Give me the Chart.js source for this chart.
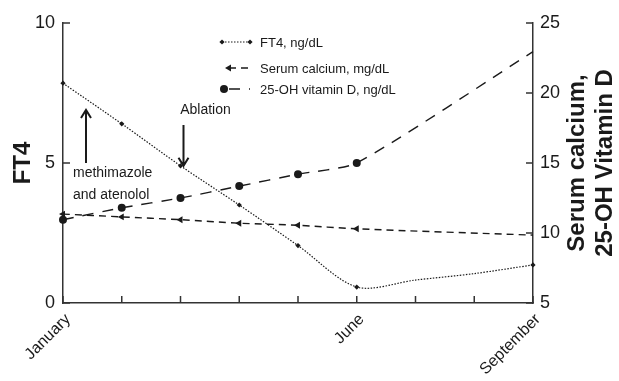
<!DOCTYPE html>
<html>
<head>
<meta charset="utf-8">
<script src="https://cdn.jsdelivr.net/npm/chart.js@4/dist/chart.umd.min.js"></script>
<style>
  body { margin: 0; background: #fff; }
  canvas { display: block; }
</style>
</head>
<body>
<canvas id="myChart" width="619" height="381"></canvas>
<script>
// Data

let months = ["January", "February", "March", "April", "May", "June", "July", "August", "September"];
let shownMonths = ["January", "June", "September"];
let ft4 = [7.85, 6.4, 4.9, 3.5, 2.05, 0.57, 0.82, 1.05, 1.36];
let ft4Markers = [1, 1, 1, 1, 1, 1, 0, 0, 1];
let calcium = [11.35, 11.15, 10.95, 10.7, 10.55, 10.3, null, null, 9.85];
let vitaminD = [10.95, 11.8, 12.5, 13.35, 14.2, 15.0, null, null, 22.95];
let leftTicks = [0, 5, 10];
let rightTicks = [5, 10, 15, 20, 25];

let seriesNames = ["FT4, ng/dL", "Serum calcium, mg/dL", "25-OH vitamin D, ng/dL"];

var font = "'Liberation Sans', Arial, sans-serif";
var ink = "#1a1a1a";
var axisColor = "#333";

// Draws inward tick marks, the legend, the notes and the right axis title

const extras = {
  id: "extras",
  afterDraw(chart) {
    let ctx = chart.ctx;
    let area = chart.chartArea;
    let xs = chart.scales.x;
    let yl = chart.scales.y;
    let yr = chart.scales.y1;

    ctx.save();
    ctx.strokeStyle = axisColor;
    ctx.lineWidth = 1.5;
    ctx.beginPath();
    leftTicks.forEach(function (v) {
      let y = yl.getPixelForValue(v);
      ctx.moveTo(area.left, y);
      ctx.lineTo(area.left + 7, y);
    });
    rightTicks.forEach(function (v) {
      let y = yr.getPixelForValue(v);
      ctx.moveTo(area.right, y);
      ctx.lineTo(area.right - 7, y);
    });
    months.forEach(function (m, i) {
      let x = xs.getPixelForValue(i);
      ctx.moveTo(x, area.bottom);
      ctx.lineTo(x, area.bottom - 7);
    });
    ctx.stroke();

    // legend
    ctx.font = "13px " + font;
    ctx.textBaseline = "middle";
    ctx.textAlign = "left";
    let rows = [42, 68, 89];
    chart.data.datasets.forEach(function (ds, i) {
      let y = rows[i];
      ctx.strokeStyle = ink;
      ctx.fillStyle = ink;
      ctx.lineWidth = ds.borderWidth;
      ctx.setLineDash(ds.borderDash);
      ctx.beginPath();
      ctx.moveTo(i == 0 ? 222 : 229, y);
      ctx.lineTo(250, y);
      ctx.stroke();
      ctx.setLineDash([]);
      let style = { pointStyle: ds.pointStyle, radius: ds.legendRadius, rotation: ds.pointRotation || 0, borderWidth: 0 };
      Chart.helpers.drawPoint(ctx, style, i == 2 ? 224 : (i == 1 ? 229 : 222), y);
      if (i == 0) Chart.helpers.drawPoint(ctx, style, 250, y);
      ctx.fillText(seriesNames[i], 260, y + 1);
    });

    // notes
    ctx.fillStyle = ink;
    ctx.font = "14px " + font;
    ctx.textAlign = "center";
    let ax = xs.getPixelForValue(2) + 3;
    let tipY = yl.getPixelForValue(ft4[2]);
    ctx.fillText("Ablation", ax + 22, 110);
    ctx.textAlign = "left";
    let mx = xs.getPixelForValue(0) + 10;
    ctx.fillText("methimazole", mx, 173);
    ctx.fillText("and atenolol", mx, 195);

    ctx.strokeStyle = ink;
    ctx.lineWidth = 2;
    ctx.beginPath();
    ctx.moveTo(ax, 125);
    ctx.lineTo(ax, tipY);
    ctx.moveTo(ax - 5, tipY - 8);
    ctx.lineTo(ax, tipY);
    ctx.lineTo(ax + 5, tipY - 8);
    let ux = mx + 13;
    ctx.moveTo(ux, 163);
    ctx.lineTo(ux, 110);
    ctx.moveTo(ux - 5, 118);
    ctx.lineTo(ux, 110);
    ctx.lineTo(ux + 5, 118);
    ctx.stroke();

    // right title, read bottom to top
    ctx.font = "bold 24px " + font;
    ctx.textAlign = "center";
    ctx.textBaseline = "middle";
    let cy = (area.top + area.bottom) / 2;
    [["Serum calcium,", 44], ["25-OH Vitamin D", 72]].forEach(function (t) {
      ctx.save();
      ctx.translate(area.right + t[1], cy);
      ctx.rotate(-Math.PI / 2);
      ctx.fillText(t[0], 0, 0);
      ctx.restore();
    });
    ctx.restore();
  },
};

new Chart("myChart", {
  type: "line",
  data: {
    labels: months,
    datasets: [
      {
        label: seriesNames[0],
        data: ft4,
        yAxisID: "y",
        borderColor: ink,
        backgroundColor: ink,
        borderWidth: 1.2,
        borderDash: [1.5, 1.5],
        pointStyle: "rectRot",
        pointRadius: ft4Markers.map((m) => m * 2.6),
        pointBorderWidth: 0,
        legendRadius: 2.6,
        tension: 0.3,
      },
      {
        label: seriesNames[1],
        data: calcium,
        yAxisID: "y1",
        borderColor: ink,
        backgroundColor: ink,
        borderWidth: 1.4,
        borderDash: [7, 5],
        pointStyle: "triangle",
        pointRotation: -90,
        pointRadius: [4, 4, 4, 4, 4, 4, 0, 0, 0],
        pointBorderWidth: 0,
        legendRadius: 4,
        spanGaps: true,
        tension: 0.3,
      },
      {
        label: seriesNames[2],
        data: vitaminD,
        yAxisID: "y1",
        borderColor: ink,
        backgroundColor: ink,
        borderWidth: 1.4,
        borderDash: [11, 9],
        pointStyle: "circle",
        pointRadius: [4, 4, 4, 4, 4, 4, 0, 0, 0],
        pointBorderWidth: 0,
        legendRadius: 4,
        spanGaps: true,
        tension: 0.2,
      },
    ],
  },
  options: {
    responsive: false,
    devicePixelRatio: 1,
    animation: false,
    layout: { padding: { top: 23, left: 0, right: 0, bottom: 0 } },
    plugins: { legend: { display: false }, tooltip: { enabled: false } },
    scales: {
      x: {
        offset: false,
        grid: { display: false, drawTicks: false },
        border: { display: true, color: axisColor, width: 1.5 },
        afterFit: (s) => { s.height = 78; },
        ticks: {
          autoSkip: false,
          maxRotation: 45,
          minRotation: 45,
          padding: 7,
          labelOffset: 5,
          color: ink,
          font: { family: font, size: 16 },
          callback: function (v) {
            let name = months[v];
            return shownMonths.includes(name) ? name : "";
          },
        },
      },
      y: {
        position: "left",
        min: 0,
        max: 10,
        grid: { display: false, drawTicks: false },
        border: { display: true, color: axisColor, width: 1.5 },
        afterFit: (s) => { s.width = 63; },
        afterBuildTicks: (s) => { s.ticks = leftTicks.map((v) => ({ value: v })); },
        ticks: { padding: 8, color: ink, font: { family: font, size: 18 } },
        title: {
          display: true,
          text: "FT4",
          color: ink,
          padding: { top: 9, bottom: 0 },
          font: { family: font, size: 24, weight: "bold" },
        },
      },
      y1: {
        position: "right",
        min: 5,
        max: 25,
        grid: { display: false, drawTicks: false },
        border: { display: true, color: axisColor, width: 1.5 },
        afterFit: (s) => { s.width = 86; },
        afterBuildTicks: (s) => { s.ticks = rightTicks.map((v) => ({ value: v })); },
        ticks: { padding: 7, color: ink, font: { family: font, size: 18 } },
      },
    },
  },
  plugins: [extras],
});
</script>
</body>
</html>
